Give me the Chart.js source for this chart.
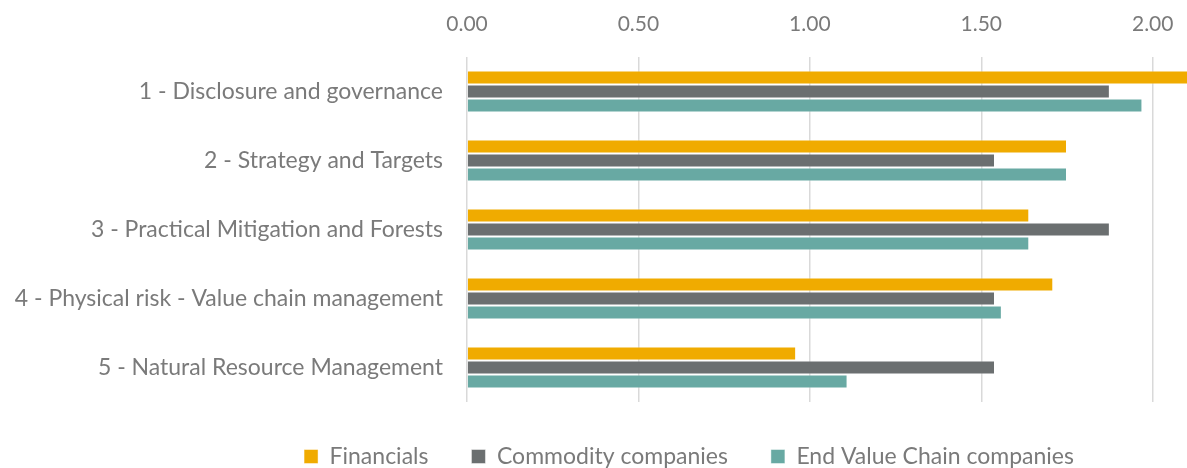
<!DOCTYPE html>
<html>
<head>
<meta charset="utf-8">
<script src="https://cdn.jsdelivr.net/npm/chart.js@4/dist/chart.umd.min.js"></script>
<style>
  html, body { margin: 0; padding: 0; background: #fff; }
  #wrap { width: 1187px; height: 468px; }
</style>
</head>
<body>
<div id="wrap"><canvas id="scoreChart"></canvas></div>
<script>
const categories = [
  "1 - Disclosure and governance",
  "2 - Strategy and Targets",
  "3 - Practical Mitigation and Forests",
  "4 - Physical risk - Value chain management",
  "5 - Natural Resource Management"
]
const financials = [2.13, 1.75, 1.64, 1.71, 0.96]
const commodity = [1.875, 1.54, 1.875, 1.54, 1.54]
const endValueChain = [1.97, 1.75, 1.64, 1.56, 1.11]
const tickValues = [0, 0.5, 1, 1.5, 2]

const textColor = "#7a7a7a"
const fontFamily = "Lato, 'Open Sans', sans-serif"

// legend sits lower and a bit right of centre in the original
const legendTweak = {
  id: 'legendTweak',
  beforeLayout(chart) {
    const lg = chart.legend
    if (lg && !lg._patched) {
      const fit = lg.fit.bind(lg)
      lg.fit = function () { fit(); this.height = 66 }
      lg._patched = true
    }
  },
  afterLayout(chart) {
    if (chart.legend) chart.legend.left += 191
  }
}

const ctx = document.getElementById('scoreChart')

new Chart(ctx, {
  type: 'bar',
  data: {
    labels: categories,
    datasets: [
      { label: 'Financials', data: financials, backgroundColor: '#f0ab00' },
      { label: 'Commodity companies', data: commodity, backgroundColor: '#6b6f70' },
      { label: 'End Value Chain companies', data: endValueChain, backgroundColor: '#68a9a3' }
    ]
  },
  plugins: [legendTweak],
  options: {
    indexAxis: 'y',
    responsive: true,
    maintainAspectRatio: false,
    animation: false,
    layout: { padding: 0 },
    datasets: {
      bar: {
        categoryPercentage: 0.61,
        barPercentage: 1.0,
        borderWidth: 1,
        borderColor: 'rgba(255,255,255,0.45)'
      }
    },
    plugins: {
      tooltip: { enabled: false },
      legend: {
        position: 'bottom',
        labels: {
          color: textColor,
          boxWidth: 14,
          boxHeight: 14,
          padding: 43,
          font: { family: fontFamily, size: 23 }
        }
      }
    },
    scales: {
      x: {
        position: 'top',
        min: 0,
        max: 2.1,
        afterBuildTicks: (axis) => {
          axis.ticks = tickValues.map(v => ({ value: v }))
        },
        afterFit: (axis) => {
          axis.height = 57
          axis.paddingLeft = 0
          axis.paddingRight = 0
        },
        border: { display: false },
        grid: {
          color: '#d9d9d9',
          lineWidth: 1.5,
          drawTicks: false
        },
        ticks: {
          color: textColor,
          padding: 20,
          font: { family: fontFamily, size: 21 },
          callback: (v) => Number(v).toFixed(2)
        }
      },
      y: {
        afterFit: (axis) => { axis.width = 467 },
        border: { display: false },
        grid: { display: false, drawTicks: false },
        ticks: {
          color: textColor,
          padding: 24,
          font: { family: fontFamily, size: 23 }
        }
      }
    }
  }
})
</script>
</body>
</html>
